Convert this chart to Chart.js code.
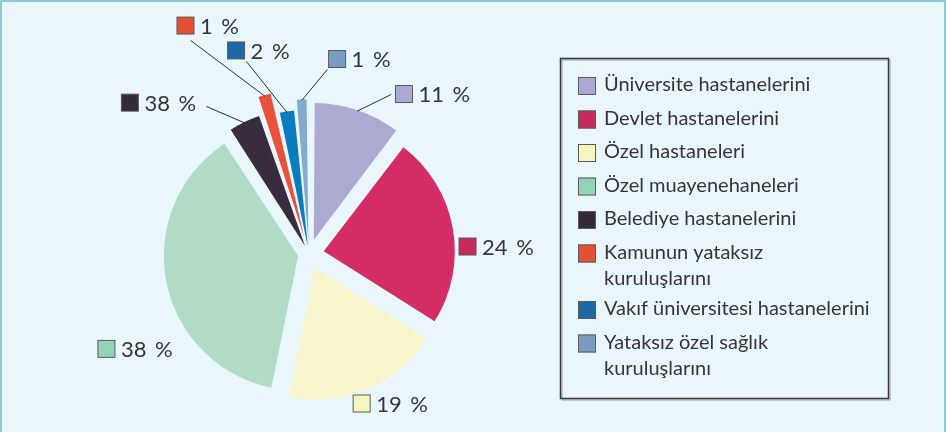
<!DOCTYPE html>
<html>
<head>
<meta charset="utf-8">
<script src="https://cdn.jsdelivr.net/npm/chart.js@4.4.0/dist/chart.umd.min.js"></script>
<style>
  html, body { margin: 0; padding: 0; background: #e9f6fc; }
  #wrap {
    position: relative; width: 946px; height: 432px; box-sizing: border-box;
    border: 2px solid #8ecad3; border-bottom: none; background: #e9f6fc;
  }
  canvas { position: absolute; left: -2px; top: -2px; }
</style>
</head>
<body>
<div id="wrap"><canvas id="pieChart" width="946" height="432"></canvas></div>
<script>
const categories = [
  'Üniversite hastanelerini',
  'Devlet hastanelerini',
  'Özel hastaneleri',
  'Özel muayenehaneleri',
  'Belediye hastanelerini',
  'Kamunun yataksız\nkuruluşlarını',
  'Vakıf üniversitesi hastanelerini',
  'Yataksız özel sağlık\nkuruluşlarını'
];
// slice sizes as drawn in the picture (%)
const shares = [10.4, 23.6, 19.2, 37.7, 3.9, 1.9, 1.9, 1.5];
// percentages as printed next to the slices
const shareLabels = ['11 %', '24 %', '19 %', '38 %', '38 %', '1 %', '2 %', '1 %'];

const sliceColors = ['#aca9d3', '#d42d66', '#f8f4cc', '#b0dcc5', '#392c3e', '#e9513a', '#0a7bbf', '#84aacd'];
const keyColors = ['#aba9d4', '#c72a5c', '#f7f5c0', '#93d3b8', '#342a3c', '#e25035', '#1a6aa8', '#7a9cc0'];

// explode per slice (chart.js moves an arc by offset / 4)
const sliceOffsets = [60, 60, 60, 44, 36, 72, 28, 50];
// label box centres: [degrees clockwise from top, distance from pie centre]
const labelSpots = [[30.7, 186], [87.3, 158.7], [160.6, 158.5], [244.9, 223.7],
                    [310.2, 234.5], [331.6, 259.7], [340.3, 216.2], [8.2, 197]];
const leaderEnds = [[27.3, 179.6], null, null, null, [325.2, 179.6], [331, 244.2], [342, 202.4], [5.7, 185.4]];

const textColor = '#363636';

function polar(cx, cy, deg, dist) {
  const a = deg * Math.PI / 180;
  return [cx + dist * Math.sin(a), cy - dist * Math.cos(a)];
}

const pctLabels = {
  id: 'pctLabels',
  afterDatasetsDraw(chart) {
    const ctx = chart.ctx;
    const arcs = chart.getDatasetMeta(0).data;
    ctx.save();
    arcs.forEach((el, i) => {
      const cx = el.x, cy = el.y;
      if (leaderEnds[i]) {
        const mid = (el.startAngle + el.endAngle) / 2;
        const d = sliceOffsets[i] / 4;
        const fix = 1 - Math.sin(Math.min(Math.PI, el.endAngle - el.startAngle));
        const dist = d + el.outerRadius + d * fix - 1;
        const sx = cx + Math.cos(mid) * dist, sy = cy + Math.sin(mid) * dist;
        const [ex, ey] = polar(cx, cy, leaderEnds[i][0], leaderEnds[i][1]);
        ctx.beginPath();
        ctx.moveTo(sx, sy);
        ctx.lineTo(ex, ey);
        ctx.strokeStyle = '#2e2e2e';
        ctx.lineWidth = 1;
        ctx.stroke();
      }
      const [bx, by] = polar(cx, cy, labelSpots[i][0], labelSpots[i][1]);
      ctx.fillStyle = keyColors[i];
      ctx.fillRect(bx - 8.5, by - 8.5, 17, 17);
      ctx.strokeStyle = '#5a5a5a';
      ctx.lineWidth = 1;
      ctx.strokeRect(bx - 8.5, by - 8.5, 17, 17);
      ctx.fillStyle = textColor;
      ctx.font = '22px Lato';
      ctx.wordSpacing = '3px';
      ctx.textAlign = 'left';
      ctx.textBaseline = 'middle';
      ctx.fillText(shareLabels[i], bx + 8.5 + 6, by + 1);
    });
    ctx.restore();
  }
};

const sideLegend = {
  id: 'sideLegend',
  afterDraw(chart) {
    const ctx = chart.ctx;
    ctx.save();
    ctx.wordSpacing = '0px';
    ctx.strokeStyle = '#9a9a9a';
    ctx.lineWidth = 1;
    ctx.strokeRect(562, 60, 328, 340);
    ctx.strokeStyle = '#3a3a3a';
    ctx.lineWidth = 1.5;
    ctx.strokeRect(560.5, 58.5, 328, 340);
    ctx.font = '20px Lato';
    ctx.textAlign = 'left';
    ctx.textBaseline = 'middle';
    let y = 86;
    categories.forEach((name, i) => {
      const lines = name.split('\n');
      ctx.fillStyle = keyColors[i];
      ctx.fillRect(578, y - 9, 18, 18);
      ctx.strokeStyle = '#5a5a5a';
      ctx.lineWidth = 1;
      ctx.strokeRect(578.5, y - 8.5, 17, 17);
      ctx.fillStyle = textColor;
      lines.forEach((ln, k) => ctx.fillText(ln, 604, y - 1 + k * 26));
      y += 33.5 + (lines.length - 1) * 23;
    });
    ctx.restore();
  }
};

new Chart(document.getElementById('pieChart').getContext('2d'), {
  type: 'pie',
  data: {
    labels: categories,
    datasets: [{
      data: shares,
      backgroundColor: sliceColors,
      borderWidth: 0,
      offset: sliceOffsets
    }]
  },
  options: {
    responsive: false,
    animation: false,
    radius: 131,
    layout: { padding: { left: 100, right: 428, top: 110, bottom: 34 } },
    plugins: {
      legend: { display: false },
      tooltip: { enabled: false }
    }
  },
  plugins: [pctLabels, sideLegend]
});
</script>
</body>
</html>
